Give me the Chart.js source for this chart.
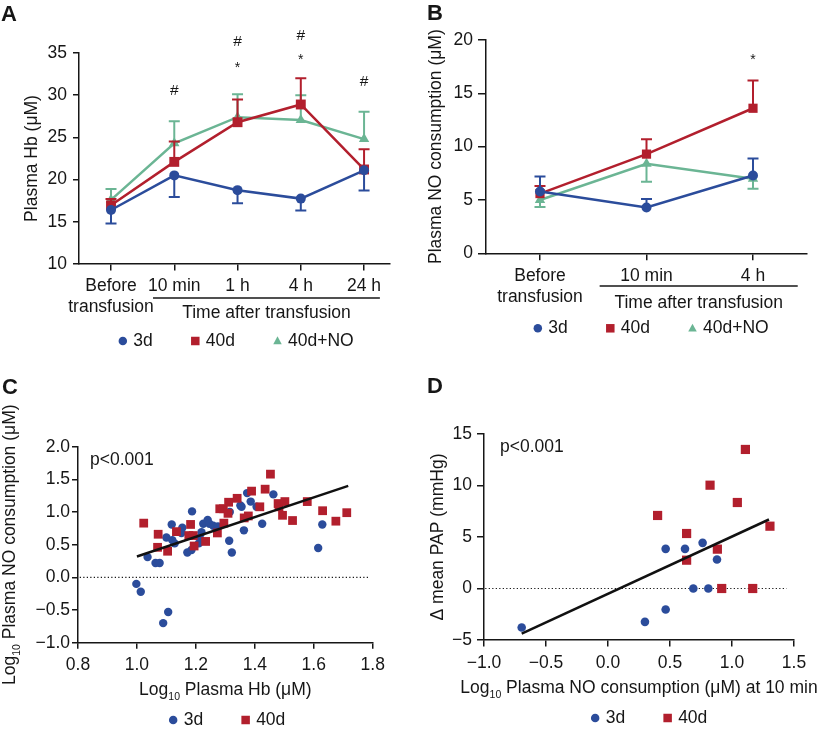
<!DOCTYPE html>
<html>
<head>
<meta charset="utf-8">
<script src="https://cdn.jsdelivr.net/npm/chart.js@4.4.1/dist/chart.umd.min.js"></script>
<style>
html,body{margin:0;padding:0;background:#fff;}
#wrap{position:relative;width:823px;height:731px;overflow:hidden;background:#fff;}
#wrap canvas{position:absolute;left:0;top:0;}
</style>
</head>
<body>
<div id="wrap">
<canvas id="cA" width="823" height="731"></canvas>
<canvas id="cB" width="823" height="731"></canvas>
<canvas id="cC" width="823" height="731"></canvas>
<canvas id="cD" width="823" height="731"></canvas>
</div>
<script>
// ---------------- DATA ----------------
const SERIES = ['3d', '40d', '40d+NO'];

// Panel A: plasma Hb (µM) over time
const A_TIMES = [['Before', 'transfusion'], '10 min', '1 h', '4 h', '24 h'];
const A_YTICKS = [10, 15, 20, 25, 30, 35];
const A_3D = [16.4, 20.5, 18.75, 17.75, 21.1];
const A_3D_ERR = [14.8, 17.95, 17.2, 16.35, 18.7];
const A_40D = [16.95, 22.1, 26.8, 28.9, 21.2];
const A_40D_ERR = [17.7, 24.5, 29.5, 32.0, 23.6];
const A_40DNO = [17.6, 24.3, 27.4, 27.05, 24.8];
const A_40DNO_ERR = [18.9, 26.9, 30.1, 30.0, 28.05];
const A_SIG = [[1, '#', 30.5], [2, '*', 33.6], [2, '#', 36.3], [3, '*', 34.55], [3, '#', 37.1], [4, '#', 31.6]];

// Panel B: plasma NO consumption (µM) over time
const B_TIMES = [['Before', 'transfusion'], '10 min', '4 h'];
const B_YTICKS = [0, 5, 10, 15, 20];
const B_3D = [5.8, 4.3, 7.3];
const B_3D_ERR = [7.2, 5.1, 8.9];
const B_40D = [5.6, 9.3, 13.6];
const B_40D_ERR = [6.3, 10.7, 16.2];
const B_40DNO = [5.0, 8.4, 7.0];
const B_40DNO_ERR = [4.35, 6.7, 6.05];
const B_SIG = [[2, '*', 18.4]];

// Panel C: log10 plasma Hb vs log10 plasma NO consumption
const C_XTICKS = [0.8, 1.0, 1.2, 1.4, 1.6, 1.8];
const C_YTICKS = [-1.0, -0.5, 0.0, 0.5, 1.0, 1.5, 2.0];
const C_3D = [[0.998,-0.10],[1.013,-0.22],[1.089,-0.70],[1.106,-0.53],[1.036,0.31],[1.063,0.22],[1.077,0.22],
  [1.10,0.61],[1.118,0.81],[1.12,0.57],[1.128,0.52],[1.154,0.76],[1.151,0.68],[1.171,0.38],[1.187,1.01],
  [1.185,0.42],[1.21,0.52],[1.213,0.61],[1.219,0.69],[1.225,0.82],[1.24,0.88],[1.246,0.82],[1.259,0.79],
  [1.275,0.78],[1.315,1.0],[1.313,0.56],[1.322,0.38],[1.351,1.10],[1.355,1.08],[1.363,0.72],[1.374,1.29],
  [1.386,1.16],[1.406,1.08],[1.425,0.82],[1.463,1.27],[1.615,0.45],[1.629,0.81]];
const C_40D = [[1.023,0.83],[1.072,0.66],[1.07,0.46],[1.104,0.40],[1.134,0.70],[1.182,0.81],[1.176,0.64],
  [1.191,0.64],[1.194,0.48],[1.233,0.55],[1.273,0.68],[1.281,1.05],[1.293,1.05],[1.295,0.83],[1.311,1.15],
  [1.309,0.98],[1.34,1.21],[1.364,0.91],[1.378,0.94],[1.389,1.32],[1.417,1.08],[1.435,1.35],[1.453,1.58],
  [1.479,1.13],[1.482,1.08],[1.494,0.95],[1.502,1.16],[1.528,0.87],[1.578,1.16],[1.63,1.02],[1.675,0.86],[1.712,0.99]];
const C_FIT = [[1.0, 0.32], [1.717, 1.40]];
const C_ZERO = [[0.806, 0], [1.79, 0]];

// Panel D: log10 NO consumption at 10 min vs change in mean PAP
const D_XTICKS = [-1.0, -0.5, 0.0, 0.5, 1.0, 1.5];
const D_YTICKS = [-5, 0, 5, 10, 15];
const D_3D = [[-0.696,-3.79],[0.298,-3.24],[0.465,-2.04],[0.465,3.85],[0.621,3.85],[0.763,4.43],[0.879,2.82],[0.688,0.0],[0.809,0.0]];
const D_40D = [[0.40,7.09],[0.634,5.34],[0.634,2.75],[0.823,10.03],[0.882,3.82],[0.917,0.0],[1.043,8.35],[1.108,13.5],[1.167,0.0],[1.306,6.05]];
const D_FIT = [[-0.696, -4.37], [1.298, 6.70]];
const D_ZERO = [[-0.99, 0], [1.44, 0]];

// ---------------- STYLE ----------------
const FONT = '"Liberation Sans", Arial, Helvetica, sans-serif';
const FS = 17.5;
const INK = '#161616';
const BLUE = '#2b4c9b', RED = '#b21f2d', GREEN = '#6bb594';
const STYLE = {'3d': ['circle', BLUE], '40d': ['rect', RED], '40d+NO': ['triangle', GREEN]};

Chart.defaults.font.family = FONT;
Chart.defaults.font.size = FS;
Chart.defaults.color = INK;
Chart.defaults.animation = false;
Chart.defaults.responsive = false;
Chart.defaults.plugins.legend.display = false;
Chart.defaults.plugins.tooltip.enabled = false;

const W = 823, H = 731;
const minus = s => s.replace('-', '\u2212');

function drawRich(ctx, parts, x, y, rot) {
  ctx.save();
  ctx.translate(x, y);
  if (rot) ctx.rotate(rot);
  const big = FS + 'px ' + FONT, small = '10.5px ' + FONT;
  const segs = parts.map(p => typeof p === 'string' ? {t: p, sub: false} : {t: p.sub, sub: true});
  let w = 0;
  segs.forEach(s => { ctx.font = s.sub ? small : big; s.w = ctx.measureText(s.t).width; w += s.w; });
  let cx = -w / 2;
  ctx.textAlign = 'left'; ctx.textBaseline = 'middle'; ctx.fillStyle = INK;
  segs.forEach(s => { ctx.font = s.sub ? small : big; ctx.fillText(s.t, cx, s.sub ? 7 : 0); cx += s.w; });
  ctx.restore();
}

function marker(ctx, style, x, y, color, s) {
  ctx.fillStyle = color;
  ctx.beginPath();
  if (style === 'circle') ctx.arc(x, y, s / 2, 0, Math.PI * 2);
  else if (style === 'rect') ctx.rect(x - s / 2, y - s / 2, s, s);
  else { ctx.moveTo(x, y - s * 0.55); ctx.lineTo(x + s / 2, y + s * 0.38); ctx.lineTo(x - s / 2, y + s * 0.38); ctx.closePath(); }
  ctx.fill();
}

function drawLegend(ctx, labels, cx, y) {
  ctx.font = FS + 'px ' + FONT;
  const mk = 9, g1 = 6, g2 = 38;
  const items = labels.map(l => ({l, w: ctx.measureText(l).width}));
  let total = items.reduce((s, it) => s + mk + g1 + it.w, 0) + g2 * (items.length - 1);
  let x = cx - total / 2;
  items.forEach(it => {
    const [st, col] = STYLE[it.l];
    marker(ctx, st, x + mk / 2, y, col, 8.5);
    ctx.fillStyle = INK; ctx.textAlign = 'left'; ctx.textBaseline = 'middle';
    ctx.fillText(it.l, x + mk + g1, y);
    x += mk + g1 + it.w + g2;
  });
}

const DECOR = {};

const decor = {
  id: 'decor',
  afterDatasetDraw(chart, args) {
    const ds = chart.data.datasets[args.index];
    if (!ds.errEnd) return;
    const ctx = chart.ctx, ys = chart.scales.y, pts = args.meta.data;
    ctx.save();
    ctx.strokeStyle = ds.borderColor; ctx.lineWidth = 2;
    ds.errEnd.forEach((e, i) => {
      const x = pts[i].x, y0 = pts[i].y, y1 = ys.getPixelForValue(e);
      ctx.beginPath();
      ctx.moveTo(x, y0); ctx.lineTo(x, y1);
      ctx.moveTo(x - 5.5, y1); ctx.lineTo(x + 5.5, y1);
      ctx.stroke();
    });
    ctx.restore();
  },
  afterDraw(chart) {
    const o = DECOR[chart.canvas.id];
    if (!o) return;
    const ctx = chart.ctx, a = chart.chartArea, xs = chart.scales.x, ys = chart.scales.y;
    ctx.save();
    ctx.fillStyle = INK; ctx.strokeStyle = INK;
    // panel letter
    ctx.font = 'bold 22px ' + FONT; ctx.textAlign = 'left'; ctx.textBaseline = 'alphabetic';
    ctx.fillText(o.letter[0], o.letter[1], o.letter[2]);
    // axis titles
    drawRich(ctx, o.yTitle, o.yTitleX, (a.top + a.bottom) / 2, -Math.PI / 2);
    if (o.xTitle) drawRich(ctx, o.xTitle, (a.left + a.right) / 2, a.bottom + o.xTitleDy, 0);
    // bracket + group title
    if (o.bracket) {
      const x0 = xs.getPixelForValue(o.bracket[0]), x1 = xs.getPixelForValue(o.bracket[1]);
      const yb = a.bottom + o.bracket[2];
      ctx.lineWidth = 1.5;
      ctx.beginPath(); ctx.moveTo(x0, yb); ctx.lineTo(x1, yb); ctx.stroke();
      ctx.font = FS + 'px ' + FONT; ctx.textAlign = 'center'; ctx.textBaseline = 'middle';
      ctx.fillText(o.bracketTitle, (x0 + x1) / 2, a.bottom + o.bracket[3]);
    }
    // significance marks
    if (o.marks) {
      o.marks.forEach(([i, t, v]) => {
        const x = xs.getPixelForValue(i), y = ys.getPixelForValue(v);
        ctx.textAlign = 'center'; ctx.textBaseline = 'middle';
        if (t === '*') { ctx.font = '14px ' + FONT; ctx.fillText(t, x, y + 3); }
        else { ctx.font = '15.5px ' + FONT; ctx.fillText(t, x, y); }
      });
    }
    // p value
    if (o.pval) {
      ctx.font = FS + 'px ' + FONT; ctx.textAlign = 'left'; ctx.textBaseline = 'middle';
      ctx.fillText(o.pval[0], a.left + o.pval[1], a.top + o.pval[2]);
    }
    // legend
    drawLegend(ctx, o.legend, o.legendX, a.bottom + o.legendDy);
    ctx.restore();
  }
};

function axisX(c) {
  return {
    type: 'linear', min: c.min, max: c.max,
    afterBuildTicks: s => { s.ticks = c.ticks.map(v => ({value: v})); },
    ticks: {padding: c.pad, callback: c.fmt, maxRotation: 0, autoSkip: false, color: INK},
    grid: {display: true, drawOnChartArea: false, drawTicks: true, tickLength: c.tl, color: INK, lineWidth: 1.5},
    border: {display: true, color: INK, width: 1.5},
    afterFit: s => { s.height = c.h; }
  };
}
function axisY(c) {
  return {
    type: 'linear', min: c.min, max: c.max,
    afterBuildTicks: s => { s.ticks = c.ticks.map(v => ({value: v})); },
    ticks: {padding: c.pad, callback: c.fmt, autoSkip: false, color: INK},
    grid: {display: true, drawOnChartArea: false, drawTicks: true, tickLength: c.tl, color: INK, lineWidth: 1.5},
    border: {display: true, color: INK, width: 1.5},
    afterFit: s => { s.width = c.w; }
  };
}
function pad(area, yw, xh) {
  return {left: area.l - yw, top: area.t, right: W - area.r, bottom: H - area.b - xh};
}

function lineSet(label, vals, errs, order, sizes) {
  const [st, col] = STYLE[label];
  return {
    label, data: vals.map((v, i) => ({x: i, y: v})), errEnd: errs,
    borderColor: col, backgroundColor: col, pointBackgroundColor: col,
    pointStyle: st, pointRadius: sizes[st], pointBorderWidth: 0, pointHoverRadius: sizes[st],
    borderWidth: 2.5, tension: 0, order, clip: false
  };
}
function scatterSet(label, pts, order, sizes) {
  const [st, col] = STYLE[label];
  return {
    label, data: pts.map(([x, y]) => ({x, y})),
    backgroundColor: col, borderColor: col, pointStyle: st, pointRadius: sizes[st], pointBorderWidth: 0,
    pointHoverRadius: sizes[st], showLine: false, order, clip: false
  };
}
function plainLine(pts, width, dash, order) {
  return {
    label: '', data: pts.map(([x, y]) => ({x, y})), showLine: true, pointRadius: 0, pointHoverRadius: 0,
    borderColor: '#111', backgroundColor: '#111', borderWidth: width, borderDash: dash, order, clip: false
  };
}

const fmtInt = v => minus(String(v));
const fmt1 = v => minus(v.toFixed(1));

// ---------------- PANEL A ----------------
const areaA = {l: 79, t: 53, r: 390, b: 264};
DECOR.cA = {letter: ['A', 1, 21], yTitle: ['Plasma Hb (\u03bcM)'], yTitleX: 32,
  bracket: [0.664, 4.25, 34, 49.5], bracketTitle: 'Time after transfusion',
  marks: A_SIG, legend: SERIES, legendX: 236, legendDy: 77};
new Chart(document.getElementById('cA'), {
  type: 'line',
  data: {datasets: [
    lineSet('3d', A_3D, A_3D_ERR, 0, {circle: 5, rect: 7, triangle: 6}),
    lineSet('40d', A_40D, A_40D_ERR, 1, {circle: 5, rect: 7, triangle: 6}),
    lineSet('40d+NO', A_40DNO, A_40DNO_ERR, 2, {circle: 5, rect: 7, triangle: 6})
  ]},
  options: {
    layout: {padding: pad(areaA, 79, 60)},
    scales: {
      x: axisX({min: -0.506, max: 4.41, ticks: A_TIMES.map((_, i) => i), fmt: v => A_TIMES[v], pad: 5.5, tl: 6.5, h: 60}),
      y: axisY({min: 10, max: 35, ticks: A_YTICKS, fmt: fmtInt, pad: 6, tl: 6, w: 79})
    }
  },
  plugins: [decor]
});

// ---------------- PANEL B ----------------
const areaB = {l: 486, t: 40, r: 807, b: 253.3};
DECOR.cB = {letter: ['B', 427, 20], yTitle: ['Plasma NO consumption (\u03bcM)'], yTitleX: 436,
  bracket: [0.56, 2.42, 32.7, 49.5], bracketTitle: 'Time after transfusion',
  marks: B_SIG, legend: SERIES, legendX: 651, legendDy: 75};
new Chart(document.getElementById('cB'), {
  type: 'line',
  data: {datasets: [
    lineSet('3d', B_3D, B_3D_ERR, 0, {circle: 5, rect: 6.5, triangle: 6}),
    lineSet('40d', B_40D, B_40D_ERR, 1, {circle: 5, rect: 6.5, triangle: 6}),
    lineSet('40d+NO', B_40DNO, B_40DNO_ERR, 2, {circle: 5, rect: 6.5, triangle: 6})
  ]},
  options: {
    layout: {padding: pad(areaB, 75, 60)},
    scales: {
      x: axisX({min: -0.507, max: 2.507, ticks: B_TIMES.map((_, i) => i), fmt: v => B_TIMES[v], pad: 5, tl: 7, h: 60}),
      y: axisY({min: 0, max: 20, ticks: B_YTICKS, fmt: fmtInt, pad: 5, tl: 8, w: 75})
    }
  },
  plugins: [decor]
});

// ---------------- PANEL C ----------------
const areaC = {l: 78, t: 446.7, r: 372.7, b: 642.7};
DECOR.cC = {letter: ['C', 2, 393.5], yTitle: ['Log', {sub: '10'}, ' Plasma NO consumption (\u03bcM)'], yTitleX: 10,
  xTitle: ['Log', {sub: '10'}, ' Plasma Hb (\u03bcM)'], xTitleDy: 47.3,
  pval: ['p<0.001', 12, 13.3], legend: ['3d', '40d'], legendX: 227, legendDy: 77.3};
new Chart(document.getElementById('cC'), {
  type: 'scatter',
  data: {datasets: [
    plainLine(C_FIT, 2.5, [], 0),
    scatterSet('40d', C_40D, 1, {circle: 4.2, rect: 6.2}),
    scatterSet('3d', C_3D, 2, {circle: 4.2, rect: 6.2}),
    plainLine(C_ZERO, 1.2, [1.2, 2.3], 3)
  ]},
  options: {
    layout: {padding: pad(areaC, 78, 50)},
    scales: {
      x: axisX({min: 0.8, max: 1.8, ticks: C_XTICKS, fmt: fmt1, pad: 6, tl: 6, h: 50}),
      y: axisY({min: -1, max: 2, ticks: C_YTICKS, fmt: fmt1, pad: 2, tl: 6, w: 78})
    }
  },
  plugins: [decor]
});

// ---------------- PANEL D ----------------
const areaD = {l: 484, t: 434, r: 794, b: 640};
DECOR.cD = {letter: ['D', 427, 392.5], yTitle: ['\u0394 mean PAP (mmHg)'], yTitleX: 438,
  xTitle: ['Log', {sub: '10'}, ' Plasma NO consumption (\u03bcM) at 10 min'], xTitleDy: 48,
  pval: ['p<0.001', 16, 13], legend: ['3d', '40d'], legendX: 649, legendDy: 78};
new Chart(document.getElementById('cD'), {
  type: 'scatter',
  data: {datasets: [
    plainLine(D_FIT, 2.5, [], 0),
    scatterSet('40d', D_40D, 1, {circle: 4.3, rect: 6.5}),
    scatterSet('3d', D_3D, 2, {circle: 4.3, rect: 6.5}),
    plainLine(D_ZERO, 1.2, [1.2, 2.3], 3)
  ]},
  options: {
    layout: {padding: pad(areaD, 73, 50)},
    scales: {
      x: axisX({min: -1, max: 1.5, ticks: D_XTICKS, fmt: fmt1, pad: 6, tl: 6.5, h: 50}),
      y: axisY({min: -5, max: 15, ticks: D_YTICKS, fmt: fmtInt, pad: 5, tl: 7, w: 73})
    }
  },
  plugins: [decor]
});
</script>
</body>
</html>
